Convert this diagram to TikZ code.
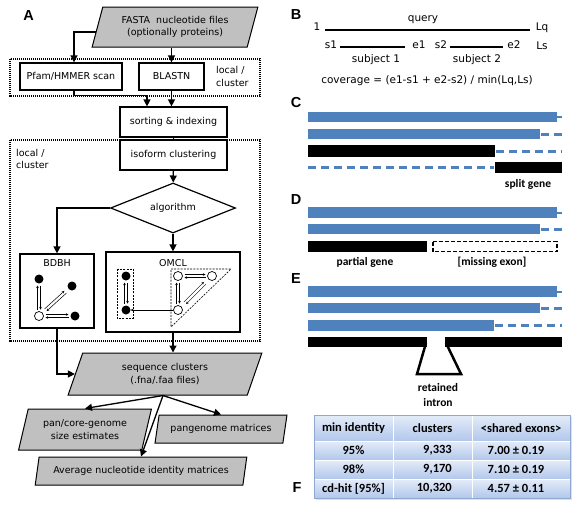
\documentclass[tikz,border=0pt]{standalone}
\usepackage{fontspec}
\setmainfont{DejaVu Sans}
\newfontfamily\calfont{Carlito}
\newfontfamily\labfont{Liberation Sans}
\usetikzlibrary{shapes.geometric,arrows.meta,calc}
\definecolor{paragray}{HTML}{C0C0C0}
\definecolor{barblue}{HTML}{4F81BD}
\definecolor{tabtop}{HTML}{E4ECF8}
\definecolor{tabbot}{HTML}{B2C7EC}
\definecolor{tabline}{HTML}{8FA8D0}
\newcommand\dblarr[3]{%
  \draw[tinyarr] ($(#1)!#3!(#2)!1.5pt!90:(#2)$) -- ($(#2)!#3!(#1)!1.5pt!-90:(#1)$);
  \draw[tinyarr] ($(#2)!#3!(#1)!1.5pt!90:(#1)$) -- ($(#1)!#3!(#2)!1.5pt!-90:(#2)$);}
\begin{document}
\begin{tikzpicture}[x=1pt,y=-1pt,
  afont/.style={font=\fontsize{9.5}{12.5}\selectfont},
  box/.style={draw, line width=1.2pt, afont, inner sep=0pt, fill=white},
  para/.style={trapezium, trapezium left angle=70, trapezium right angle=110,
    trapezium stretches=true, draw, line width=1pt, fill=paragray, afont,
    align=center, inner sep=0pt},
  arr/.style={-{Triangle[width=7pt,length=7pt]}, line width=1.3pt},
  plain/.style={line width=1.3pt},
  dotbox/.style={line width=1.2pt, dash pattern=on 1.1pt off 0.9pt},
  lab/.style={font=\labfont\bfseries\fontsize{14.5}{15}\selectfont, inner sep=0pt},
  fc/.style={circle, fill=black, inner sep=0pt, minimum size=9pt},
  oc/.style={circle, draw, line width=0.7pt, fill=white, inner sep=0pt, minimum size=9pt},
  tinyarr/.style={-{Stealth[length=2.5pt,width=2.5pt]}, line width=0.5pt},
  btxt/.style={font=\fontsize{10.5}{12}\selectfont, inner sep=0pt},
  ctxt/.style={font=\calfont\bfseries\fontsize{11.5}{13}\selectfont, inner sep=0pt},
  ttxt/.style={font=\calfont\bfseries\fontsize{12.5}{14}\selectfont, inner sep=0pt},
  bline/.style={line width=1.5pt},
  bluedash/.style={draw=barblue, line width=3pt, dash pattern=on 8pt off 5pt},
]
\useasboundingbox (0,0) rectangle (577,504);

% ---------- panel A ----------
\node[lab] (la) at (28.5,15.5) {A};
\draw[dotbox] (10,59) rectangle (260,96);
\draw[dotbox] (10,140) rectangle (260,341);
\node[afont, align=left, anchor=west, inner sep=0pt] (loc1) at (216,76.5) {local /\\cluster};
\node[afont, align=left, anchor=west, inner sep=0pt] (loc2) at (16,159) {local /\\cluster};

\node[para, minimum width=166pt, minimum height=40pt] (fasta) at (175,27) {FASTA~ nucleotide files\\(optionally proteins)};
\node[box, minimum width=102pt, minimum height=27pt] (pfam) at (71,76.5) {Pfam/HMMER scan};
\node[box, minimum width=65pt, minimum height=27pt] (blast) at (171.5,76.5) {BLASTN};
\node[box, minimum width=107pt, minimum height=30pt] (sort) at (173.5,122) {sorting \& indexing};
\node[box, minimum width=107pt, minimum height=30pt] (iso) at (173.5,155) {isoform clustering};
\node[diamond, draw, line width=1.2pt, afont, minimum width=125pt, minimum height=50pt,
      inner sep=0pt, aspect=2.5, fill=white] (alg) at (173,208) {algorithm};
\node[box, minimum width=74pt, minimum height=74pt] (bdbh) at (57,291) {};
\node[afont, inner sep=0pt] (bdbht) at (57,263) {BDBH};
\node[box, minimum width=134pt, minimum height=80pt] (omcl) at (173,292) {};
\node[afont, inner sep=0pt] (omclt) at (173,263) {OMCL};

\node[para, minimum width=194pt, minimum height=42pt] (seq) at (165,374) {sequence clusters\\(.fna/.faa files)};
\node[para, minimum width=134pt, minimum height=41pt] (pan) at (85,429.5) {pan/core-genome\\size estimates};
\node[para, minimum width=132pt, minimum height=28pt] (pgm) at (221,429) {pangenome matrices};
\node[para, minimum width=212pt, minimum height=28pt] (ani) at (141,471) {Average nucleotide identity matrices};

\draw[arr] ($(fasta.top left corner)!0.625!(fasta.bottom left corner)$) -| ([xshift=3pt]pfam.north);
\draw[arr] (blast.north |- fasta.south) -- (blast.north);
\draw[arr] ([xshift=3pt]pfam.south) -- ++(0,5) -| ([xshift=-26.5pt]sort.north);
\draw[arr] (blast.south) -- (blast.south |- sort.north);
\draw[plain] (sort) -- (iso);
\draw[arr] (iso) -- (alg);
\draw[arr] (alg.west) -| (bdbh.north);
\draw[arr] (alg.south) -- (alg.south |- omcl.north);
\draw[arr] (bdbh.south) |- (seq.west);
\draw[arr] (omcl.south) -- (omcl.south |- seq.north);
\draw[arr] ([xshift=-2pt]seq.south) -- (pan.north);
\draw[arr] ([xshift=-2pt]seq.south) -- (pgm.north);
\draw[arr] ([xshift=-2pt]seq.south) -- (ani.north);

% BDBH graph
\node[fc] (b1) at (39,279) {};
\node[fc] (b2) at (72,286) {};
\node[oc] (b3) at (39,316) {};
\node[fc] (b4) at (75,316) {};
\dblarr{b1}{b3}{6.5pt}
\dblarr{b3}{b4}{6.5pt}
\dblarr{b3}{b2}{9pt}

% OMCL graph
\draw[line width=0.6pt, dash pattern=on 2pt off 1.2pt] (117,269) rectangle (133,318);
\draw[line width=0.6pt, dash pattern=on 2pt off 1.2pt] (171,269) -- (231,269) -- (171,327) -- cycle;
\node[fc] (m1) at (126,276) {};
\node[fc] (m2) at (126,310) {};
\node[oc] (o1) at (178,276) {};
\node[oc] (o2) at (212,276) {};
\node[oc] (o3) at (178,310) {};
\dblarr{m1}{m2}{6.5pt}
\dblarr{o1}{o2}{6.5pt}
\dblarr{o1}{o3}{6.5pt}
\dblarr{o2}{o3}{10pt}
\draw[-{Stealth[length=3pt,width=3pt]}, line width=0.7pt] (o3) -- (m2);

% ---------- panel B ----------
\node[lab] (lb) at (296,15) {B};
\node[btxt] (one) at (317,27) {1};
\node[btxt] (lq) at (542,28) {Lq};
\node[btxt] (qry) at (423,20) {query};
\draw[bline] (325,30) -- (530,30);
\node[btxt] (s1) at (331,44.5) {s1};
\node[btxt] (e1) at (419,44.5) {e1};
\node[btxt] (s2) at (441,44.5) {s2};
\node[btxt] (e2) at (514,44.5) {e2};
\node[btxt] (ls) at (542,46) {Ls};
\draw[bline] (340,47) -- (405,47);
\draw[bline] (450,47) -- (503,47);
\node[btxt] (sub1) at (376,60) {subject 1};
\node[btxt] (sub2) at (477,60) {subject 2};
\node[btxt] (cov) at (427,81) {coverage = (e1-s1 + e2-s2) / min(Lq,Ls)};

% ---------- panel C ----------
\node[lab] (lc) at (296,103) {C};
\fill[barblue] (308,112) rectangle (557,122);
\draw[barblue, line width=2pt] (557,117) -- (562,117);
\fill[barblue] (308,129) rectangle (540,139);
\draw[bluedash] (541,134) -- (562,134);
\fill[black] (308,145) rectangle (495,157);
\draw[bluedash] (496,151) -- (562,151);
\draw[bluedash] (308,167) -- (494,167);
\fill[black] (495,162) rectangle (562,173);
\node[ctxt] (split) at (528,184) {split gene};

% ---------- panel D ----------
\node[lab] (ld) at (296,200) {D};
\fill[barblue] (308,207) rectangle (557,218);
\draw[barblue, line width=2pt] (557,212.5) -- (562,212.5);
\fill[barblue] (308,224) rectangle (540,234);
\draw[bluedash] (541,229) -- (562,229);
\fill[black] (308,241) rectangle (427,252);
\draw[line width=1.5pt, dash pattern=on 4pt off 2pt] (433,241.5) rectangle (557,251.5);
\node[ctxt] (partial) at (365,262) {partial gene};
\node[ctxt] (missing) at (492,262) {[missing exon]};

% ---------- panel E ----------
\node[lab] (le) at (296,279) {E};
\fill[barblue] (308,286) rectangle (557,297);
\draw[barblue, line width=2pt] (557,291.5) -- (562,291.5);
\fill[barblue] (308,303) rectangle (540,313);
\draw[bluedash] (541,308) -- (562,308);
\fill[barblue] (308,320) rectangle (494,331);
\draw[bluedash] (495,325.5) -- (562,325.5);
\fill[black] (308,337) rectangle (427,347);
\fill[black] (445,337) rectangle (562,347);
\draw[line width=2.5pt, line join=miter] (426,343) -- (417,374) -- (461,374) -- (446,343);
\node[ctxt, align=center, font=\calfont\bfseries\fontsize{11.5}{15}\selectfont] (ret) at (438,394.5) {retained\\intron};

% ---------- panel F ----------
\node[lab] (lf) at (297,487) {F};
\fill[black!12] (316,417) rectangle (572,500);
\shade[top color=tabtop, bottom color=tabbot] (314,415) rectangle (570,441);
\shade[top color=tabtop, bottom color=tabbot] (314,441) rectangle (570,460);
\shade[top color=tabtop, bottom color=tabbot] (314,460) rectangle (570,479);
\shade[top color=tabtop, bottom color=tabbot] (314,479) rectangle (570,498);
\draw[white, line width=1pt] (314,441) -- (570,441) (314,460) -- (570,460) (314,479) -- (570,479)
  (393,415) -- (393,498) (472,415) -- (472,498);
\draw[tabline, line width=0.6pt] (314,415) rectangle (570,498);
\node[ttxt] (h1) at (353.5,428) {min identity};
\node[ttxt] (h2) at (432.5,428) {clusters};
\node[ttxt] (h3) at (521,428) {<shared exons>};
\node[ttxt] (r1a) at (353.5,450.5) {95\%};
\node[ttxt, anchor=east] (r1b) at (452,450.5) {9,333};
\node[ttxt] (r1c) at (516,450.5) {7.00 ± 0.19};
\node[ttxt] (r2a) at (353.5,469.5) {98\%};
\node[ttxt, anchor=east] (r2b) at (452,469.5) {9,170};
\node[ttxt] (r2c) at (516,469.5) {7.10 ± 0.19};
\node[ttxt] (r3a) at (353.5,488.5) {cd-hit [95\%]};
\node[ttxt, anchor=east] (r3b) at (452,488.5) {10,320};
\node[ttxt] (r3c) at (516,488.5) {4.57 ± 0.11};
\end{tikzpicture}
\end{document}
